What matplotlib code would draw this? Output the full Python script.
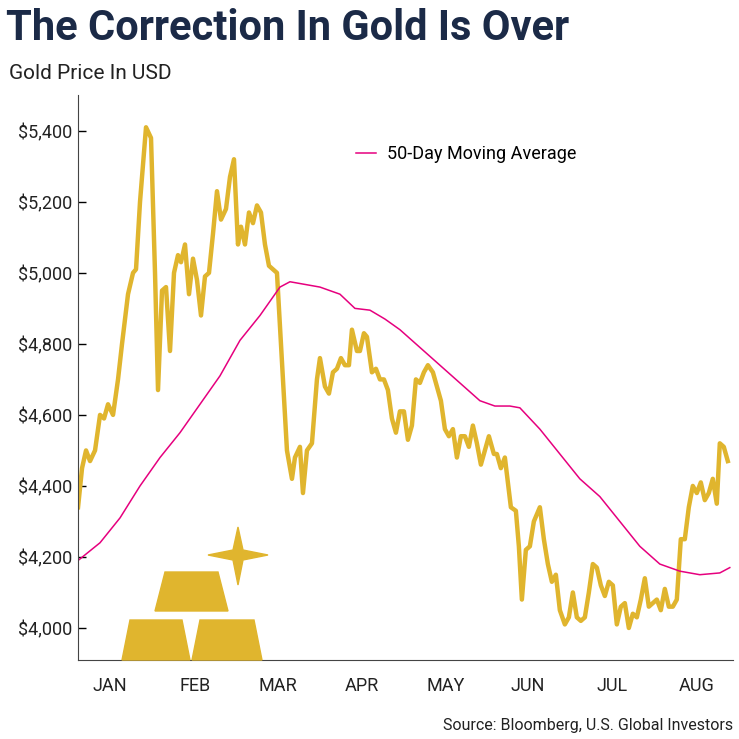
import matplotlib
matplotlib.use("Agg")
import matplotlib.pyplot as plt
from matplotlib.patches import Polygon

# traced gold price: pixel column of each sample and its value
price_px = [
    78, 82, 86, 90, 95, 100, 104, 108, 113, 118, 122, 128, 133, 136, 140, 146,
    151, 155, 158, 162, 166, 170, 174, 178, 181, 185, 189, 193, 197, 201, 205,
    209, 213, 217, 221, 226, 230, 234, 238, 241, 245, 249, 253, 257, 261, 265,
    269, 273, 277, 282, 287, 292, 295, 300, 303, 307, 312, 317, 320, 325, 329,
    333, 337, 341, 345, 349, 352, 357, 360, 364, 367, 372, 376, 380, 384, 388,
    392, 396, 400, 404, 408, 412, 416, 420, 424, 428, 433, 437, 441, 445, 449,
    453, 457, 461, 465, 469, 473, 477, 481, 485, 489, 494, 497, 501, 505, 508,
    511, 516, 519, 522, 526, 530, 534, 540, 544, 548, 552, 556, 560, 565, 569,
    573, 577, 581, 585, 589, 593, 597, 601, 605, 609, 613, 617, 621, 625, 629,
    633, 637, 641, 645, 649, 653, 657, 661, 665, 669, 673, 677, 681, 685, 689,
    693, 697, 701, 705, 709, 713, 717, 720, 724, 728,
]
price = [
    4340, 4450, 4500, 4470, 4500, 4600, 4590, 4630, 4600, 4700, 4800, 4940,
    5000, 5010, 5200, 5410, 5380, 5000, 4670, 4950, 4960, 4780, 5000, 5050,
    5030, 5080, 4940, 5040, 4980, 4880, 4990, 5000, 5110, 5230, 5150, 5180,
    5270, 5320, 5080, 5130, 5080, 5170, 5140, 5190, 5170, 5080, 5020, 5010,
    5000, 4750, 4500, 4420, 4480, 4510, 4380, 4500, 4520, 4700, 4760, 4680,
    4660, 4720, 4730, 4760, 4740, 4740, 4840, 4780, 4780, 4830, 4820, 4720,
    4730, 4700, 4700, 4670, 4590, 4550, 4610, 4610, 4530, 4570, 4700, 4690,
    4720, 4740, 4720, 4680, 4640, 4560, 4540, 4560, 4480, 4540, 4540, 4510,
    4570, 4520, 4460, 4500, 4540, 4490, 4490, 4450, 4480, 4410, 4340, 4330,
    4230, 4080, 4220, 4230, 4300, 4340, 4250, 4180, 4130, 4150, 4050, 4010,
    4030, 4100, 4030, 4020, 4030, 4100, 4180, 4170, 4120, 4090, 4130, 4120,
    4010, 4060, 4070, 4000, 4040, 4030, 4080, 4140, 4060, 4070, 4080, 4050,
    4110, 4060, 4060, 4080, 4250, 4250, 4340, 4400, 4380, 4410, 4360, 4380,
    4420, 4350, 4520, 4510, 4470,
]
ma_px = [78, 100, 120, 140, 160, 180, 200, 220, 240, 260, 280, 290, 300, 320,
         340, 355, 370, 385, 400, 420, 440, 460, 480, 495, 510, 520, 540, 560,
         580, 600, 620, 640, 660, 680, 700, 720, 730]
ma = [4190, 4240, 4310, 4400, 4480, 4550, 4630, 4710, 4810, 4880, 4960, 4975,
      4970, 4960, 4940, 4900, 4895, 4870, 4840, 4790, 4740, 4690, 4640, 4625,
      4625, 4620, 4560, 4490, 4420, 4370, 4300, 4230, 4180, 4160, 4150, 4155,
      4170]
months = ["JAN", "FEB", "MAR", "APR", "MAY", "JUN", "JUL", "AUG"]
month_px = [110, 195, 278, 362, 446, 528, 612, 697]
yticks = [4000, 4200, 4400, 4600, 4800, 5000, 5200, 5400]

GOLD = "#E0B52E"
PINK = "#E6007E"
NAVY = "#1B2A47"
FONT = ["Roboto", "DejaVu Sans"]

fig = plt.figure(figsize=(7.39, 7.39), dpi=100)
ax = fig.add_axes([0.1056, 0.107, 0.886, 0.764])

ax.plot(price_px, price, color=GOLD, lw=3.2, solid_joinstyle="round")
ax.plot(ma_px, ma, color=PINK, lw=1.1)

ax.set_xlim(78, 733)
ax.set_ylim(3910, 5500)
ax.set_yticks(yticks)
ax.set_yticklabels([f"${v:,}" for v in yticks], family=FONT, fontsize=13, color="#222")
ax.set_xticks(month_px)
ax.set_xticklabels(months, family=FONT, fontsize=13, color="#222")
ax.tick_params(axis="x", length=0, pad=12)
ax.tick_params(axis="y", length=6, direction="in", width=1, pad=4)
for s in ["top", "right"]:
    ax.spines[s].set_visible(False)
for s in ["left", "bottom"]:
    ax.spines[s].set_color("#444")

ax.plot([], [], color=PINK, lw=1.1, label="50-Day Moving Average")
ax.legend(loc="upper left", bbox_to_anchor=(0.4, 0.94), frameon=False,
          handlelength=1.1, handletextpad=0.6, prop={"family": FONT, "size": 13})

# gold bars decoration (figure pixel coords)
def px(x, y):
    return (x / 739, 1 - y / 739)

bars = [
    [(122, 660), (130, 620), (182, 620), (190, 660)],
    [(192, 660), (200, 620), (254, 620), (262, 660)],
    [(155, 611), (165, 572), (218, 572), (228, 611)],
]
for b in bars:
    fig.patches.append(Polygon([px(*p) for p in b], closed=True, color=GOLD,
                               transform=fig.transFigure, zorder=1))
cx, cy = 238, 555
star = [(cx, cy - 28), (cx + 5, cy - 5), (cx + 30, cy), (cx + 5, cy + 5),
        (cx, cy + 30), (cx - 5, cy + 5), (cx - 30, cy), (cx - 5, cy - 5)]
fig.patches.append(Polygon([px(*p) for p in star], closed=True, color=GOLD,
                           transform=fig.transFigure, zorder=1))

fig.text(0.008, 0.962, "The Correction In Gold Is Over", family=FONT, fontsize=30,
         fontweight="bold", color=NAVY, va="center")
fig.text(0.012, 0.901, "Gold Price In USD", family=FONT, fontsize=15,
         color="#222", va="center")
fig.text(0.992, 0.018, "Source: Bloomberg, U.S. Global Investors", family=FONT,
         fontsize=11.5, color="#222", ha="right", va="center")

fig.savefig("out.png", dpi=100, facecolor="white")
